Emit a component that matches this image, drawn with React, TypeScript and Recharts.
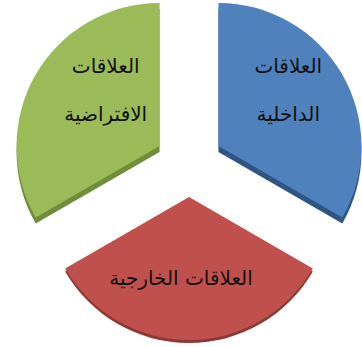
import React from "react";
import { PieChart, Pie, Cell } from "recharts";

// slice names, shares and the line breaks used for their labels
const categories = ["العلاقات الداخلية", "العلاقات الخارجية", "العلاقات الافتراضية"];
const shares = [1, 1, 1];
const labelLines = [["العلاقات", "الداخلية"], ["العلاقات الخارجية"], ["العلاقات", "الافتراضية"]];

const topColors = ["#4F81BD", "#C0504D", "#9BBB59"];
const sideColors = ["#2F5584", "#8E3835", "#718C3A"];

const data = categories.map((name, i) => ({ name, value: shares[i] }));

const W = 362;
const H = 347;
const CX = 189;
const CY = 163;
const R = 143;
const EXPLODE = 34;
const START = 90;
const END = -270;
// extrusion depth of each slice and small horizontal shifts of the labels
const depths = [6, 3, 6];
const labelShiftX = [-2, -8, 18];

const total = shares.reduce((a, b) => a + b, 0);
const midAngles = shares.map((v, i) => {
  const before = shares.slice(0, i).reduce((a, b) => a + b, 0);
  return START - ((before + v / 2) / total) * 360;
});

const RAD = Math.PI / 180;

const makeLabel = (target: number) => (props: any) => {
  if (props.index !== target) return null;
  const { cx, cy, midAngle, outerRadius } = props;
  const r = outerRadius * 0.58;
  const lines = labelLines[target];
  const x = cx + r * Math.cos(-midAngle * RAD) + labelShiftX[target];
  const lift = lines.length > 1 ? 15 : 2;
  const y = cy + r * Math.sin(-midAngle * RAD) - lift;
  const gap = 48;
  return (
    <text
      x={x}
      y={y}
      textAnchor="middle"
      fill="#111"
      fontFamily="DejaVu Sans"
      fontSize={20}
      direction="rtl"
    >
      {lines.map((line, k) => (
        <tspan key={k} x={x} y={y + (k - (lines.length - 1) / 2) * gap} dominantBaseline="central">
          {line}
        </tspan>
      ))}
    </text>
  );
};

const slicePie = (i: number, side: boolean) => {
  const dx = EXPLODE * Math.cos(midAngles[i] * RAD);
  const dy = -EXPLODE * Math.sin(midAngles[i] * RAD);
  return (
    <Pie
      key={`${side ? "side" : "top"}-${i}`}
      data={data}
      dataKey="value"
      nameKey="name"
      cx={CX + dx}
      cy={CY + dy + (side ? depths[i] : 0)}
      innerRadius={0}
      outerRadius={R}
      startAngle={START}
      endAngle={END}
      stroke="none"
      labelLine={false}
      label={side ? false : makeLabel(i)}
      isAnimationActive={false}
    >
      {data.map((_, j) => (
        <Cell key={j} fill={j === i ? (side ? sideColors[i] : topColors[i]) : "none"} />
      ))}
    </Pie>
  );
};

export default function App() {
  return (
    <div style={{ position: "absolute", left: 0, top: 0, background: "#fff" }}>
      <PieChart width={W} height={H} margin={{ top: 0, right: 0, bottom: 0, left: 0 }}>
        {data.map((_, i) => slicePie(i, true))}
        {data.map((_, i) => slicePie(i, false))}
      </PieChart>
    </div>
  );
}
